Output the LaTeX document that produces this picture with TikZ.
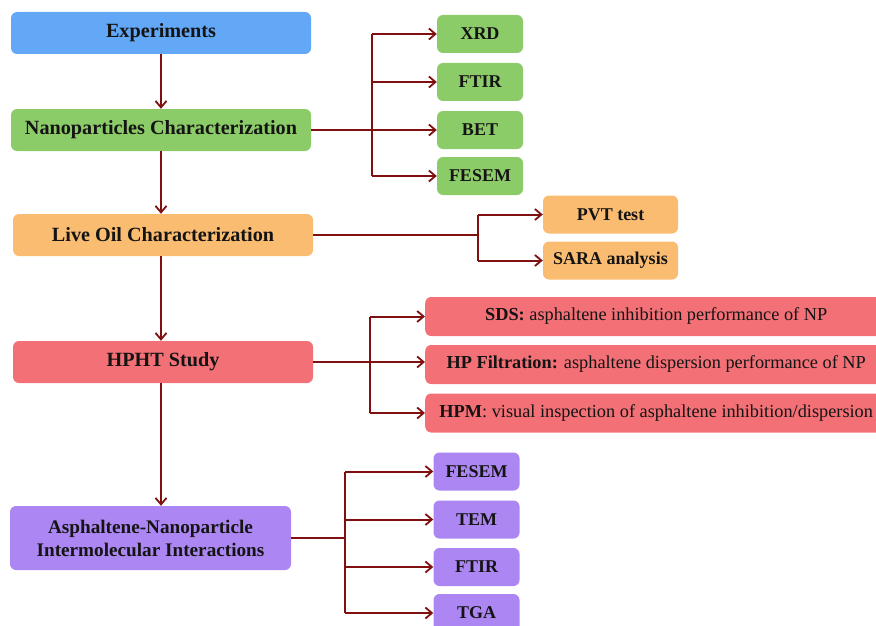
\documentclass[tikz,border=0pt]{standalone}
\usepackage{fontspec}
\setmainfont{Liberation Serif}
\usetikzlibrary{arrows.meta}
\definecolor{cblue}{RGB}{98,168,246}
\definecolor{cgreen}{RGB}{140,204,104}
\definecolor{corange}{RGB}{250,188,112}
\definecolor{cred}{RGB}{242,112,118}
\definecolor{cpurple}{RGB}{172,134,242}
\definecolor{carrow}{RGB}{128,16,16}
\definecolor{ctext}{RGB}{20,20,20}
\tikzset{
  x=1pt, y=1pt,
  box/.style={rounded corners=6pt, draw=none, align=center, inner sep=2pt, text=ctext},
  mainbox/.style={box, minimum width=300pt, minimum height=42pt, font=\fontsize{20.2}{23}\selectfont\bfseries},
  sidebox/.style={box, minimum width=86pt, minimum height=38pt, font=\fontsize{18}{21}\selectfont\bfseries},
  widebox/.style={box, minimum width=462pt, minimum height=39pt, anchor=west, font=\fontsize{18.3}{21}\selectfont},
  conn/.style={draw=carrow, line width=2pt},
  arr/.style={conn, -{Straight Barb[length=6.5pt,width=11pt,line width=1.8pt]}},
}
\begin{document}
\begin{tikzpicture}
\useasboundingbox (0,0) rectangle (876,-626);
% main column
\node[mainbox, fill=cblue] (exp) at (161,-33) {Experiments};
\node[mainbox, fill=cgreen] (nano) at (161,-130) {Nanoparticles Characterization};
\node[mainbox, fill=corange] (live) at (163,-235) {Live Oil Characterization};
\node[mainbox, fill=cred] (hpht) at (163,-362) {HPHT Study};
\node[mainbox, fill=cpurple, minimum width=281pt, minimum height=64pt, font=\fontsize{19.2}{23}\selectfont\bfseries] (asph) at (150.5,-538) {Asphaltene-Nanoparticle\\Intermolecular Interactions};
% nanoparticle characterization
\node[sidebox, fill=cgreen] (xrd) at (480,-34) {XRD};
\node[sidebox, fill=cgreen] (ftir1) at (480,-82) {FTIR};
\node[sidebox, fill=cgreen] (bet) at (480,-130) {BET};
\node[sidebox, fill=cgreen] (fesem1) at (480,-176) {FESEM};
% live oil
\node[sidebox, fill=corange, minimum width=135pt] (pvt) at (610.5,-214.5) {PVT test};
\node[sidebox, fill=corange, minimum width=135pt] (sara) at (610.5,-260.5) {SARA analysis};
% HPHT
\node[widebox, fill=cred] (sds) at (425,-316.5) {\textbf{SDS:} asphaltene inhibition performance of NP};
\node[widebox, fill=cred] (hpf) at (425,-364.5) {\textbf{HP Filtration:} asphaltene dispersion performance of NP};
\node[widebox, fill=cred] (hpm) at (425,-413) {\textbf{HPM}: visual inspection of asphaltene inhibition/dispersion};
% Asphaltene
\node[sidebox, fill=cpurple] (fesem2) at (476.5,-471.5) {FESEM};
\node[sidebox, fill=cpurple] (tem) at (476.5,-519.5) {TEM};
\node[sidebox, fill=cpurple] (ftir2) at (476.5,-567) {FTIR};
\node[sidebox, fill=cpurple] (tga) at (476.5,-613) {TGA};
% branch points
\coordinate (bA) at (372,-130);
\coordinate (bB) at (478,-235);
\coordinate (bC) at (370,-362);
\coordinate (bD) at (345,-538);
% vertical flow
\draw[arr] (exp.south) -- (nano.north);
\draw[arr] (nano.south) -- (nano.south |- live.north);
\draw[arr] (nano.south |- live.south) -- (nano.south |- hpht.north);
\draw[arr] (nano.south |- hpht.south) -- (nano.south |- asph.north);
% nano branch
\draw[arr] (nano.east) -- (nano.east -| bet.west);
\draw[conn] (bA |- xrd) -- (bA |- fesem1);
\draw[arr] (bA |- xrd) -- (xrd.west);
\draw[arr] (bA |- ftir1) -- (ftir1.west);
\draw[arr] (bA |- fesem1) -- (fesem1.west);
% live branch
\draw[conn] (live.east) -- (bB);
\draw[conn] (bB |- pvt) -- (bB |- sara);
\draw[arr] (bB |- pvt) -- (pvt.west);
\draw[arr] (bB |- sara) -- (sara.west);
% hpht branch
\draw[arr] (hpht.east) -- (hpht.east -| hpf.west);
\draw[conn] (bC |- sds) -- (bC |- hpm);
\draw[arr] (bC |- sds) -- (sds.west);
\draw[arr] (bC |- hpm) -- (hpm.west);
% asph branch
\draw[conn] (asph.east) -- (bD);
\draw[conn] (bD |- fesem2) -- (bD |- tga);
\draw[arr] (bD |- fesem2) -- (fesem2.west);
\draw[arr] (bD |- tem) -- (tem.west);
\draw[arr] (bD |- ftir2) -- (ftir2.west);
\draw[arr] (bD |- tga) -- (tga.west);
\end{tikzpicture}
\end{document}
